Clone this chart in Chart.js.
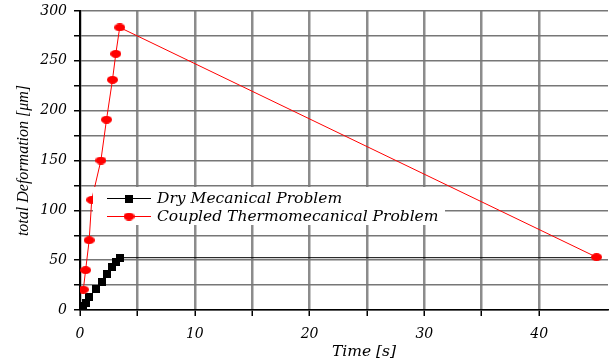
<!DOCTYPE html>
<html>
<head>
<meta charset="utf-8">
<script src="https://cdn.jsdelivr.net/npm/chart.js@4/dist/chart.umd.min.js"></script>
<style>
html,body{margin:0;padding:0;background:#fff;}
#wrap{width:609px;height:360px;position:relative;}
</style>
</head>
<body>
<div id="wrap"><canvas id="c" width="609" height="360"></canvas></div>
<script>
// ---- data ----
const timeDry = [0.23, 0.52, 0.80, 1.39, 1.88, 2.31, 2.83, 3.12, 3.46, 45];
const defDry  = [4, 7.5, 13, 21, 28, 36, 43.5, 48.5, 52.5, 52.5];
const timeTm  = [0.29, 0.49, 0.80, 1.02, 1.82, 2.31, 2.83, 3.12, 3.46, 45];
const defTm   = [20.5, 40, 70, 110.5, 150, 191, 231, 257, 283.5, 53];
const seriesNames = ['Dry Mecanical Problem', 'Coupled Thermomecanical Problem'];
const xTitle = 'Time [s]';
const yTitle = 'total Deformation [\u03bcm]';

function marker(w, h, color, shape) {
  const cv = document.createElement('canvas');
  cv.width = w; cv.height = h;
  const g = cv.getContext('2d');
  g.fillStyle = color;
  if (shape === 'ellipse') {
    g.beginPath();
    g.ellipse(w / 2, h / 2, w / 2, h / 2, 0, 0, Math.PI * 2);
    g.fill();
  } else {
    g.fillRect(0, 0, w, h);
  }
  return cv;
}
const sqMark = marker(8, 8, '#000000', 'rect');
const elMark = marker(11, 8, '#ff0000', 'ellipse');

const tickFont = {family: 'DejaVu Serif', style: 'italic', size: 14};

const lastZero = (ctx) => ctx.dataIndex === ctx.dataset.data.length - 1 ? 0 : 5;

const legendPlugin = {
  id: 'insideLegend',
  afterDatasetsDraw(chart) {
    const ctx = chart.ctx;
    const a = chart.chartArea;
    const bx = a.left + 13, by = a.top + 176, bw = 352, bh = 38;
    ctx.save();
    ctx.fillStyle = '#ffffff';
    ctx.fillRect(bx, by, bw, bh);
    const rows = [
      {color: '#000000', mark: sqMark, text: seriesNames[0]},
      {color: '#ff0000', mark: elMark, text: seriesNames[1]}
    ];
    rows.forEach((r, i) => {
      const cy = by + 11 + i * 18;
      ctx.strokeStyle = r.color;
      ctx.lineWidth = 1;
      ctx.beginPath();
      ctx.moveTo(bx + 14, cy + 0.5);
      ctx.lineTo(bx + 58, cy + 0.5);
      ctx.stroke();
      ctx.drawImage(r.mark, bx + 36 - r.mark.width / 2, cy - r.mark.height / 2 + 0.5);
      ctx.fillStyle = '#000';
      ctx.font = 'italic 15.5px "DejaVu Serif"';
      ctx.textBaseline = 'middle';
      ctx.textAlign = 'left';
      ctx.fillText(r.text, bx + 64, cy + 1);
    });
    ctx.restore();
  }
};

const xTitlePlugin = {
  id: 'xTitleDraw',
  afterDraw(chart) {
    const ctx = chart.ctx;
    const a = chart.chartArea;
    ctx.save();
    ctx.fillStyle = '#000';
    ctx.font = 'italic 15.5px "DejaVu Serif"';
    ctx.textAlign = 'center';
    ctx.textBaseline = 'middle';
    ctx.fillText(xTitle, (a.left + a.right) / 2 + 20, a.bottom + 42);
    ctx.restore();
  }
};

new Chart(document.getElementById('c'), {
  type: 'scatter',
  data: {
    datasets: [
      {
        label: seriesNames[0],
        data: timeDry.map((t, i) => ({x: t, y: defDry[i]})),
        showLine: true,
        borderColor: '#000000',
        borderWidth: 1,
        pointStyle: sqMark,
        pointRadius: lastZero,
        pointHoverRadius: lastZero,
        order: 2
      },
      {
        label: seriesNames[1],
        data: timeTm.map((t, i) => ({x: t, y: defTm[i]})),
        showLine: true,
        borderColor: '#ff0000',
        borderWidth: 1,
        pointStyle: elMark,
        pointRadius: 5,
        order: 1
      }
    ]
  },
  options: {
    responsive: false,
    animation: false,
    events: [],
    layout: {autoPadding: false, padding: {top: 11, right: 1, left: 0, bottom: 0}},
    plugins: {legend: {display: false}, tooltip: {enabled: false}},
    scales: {
      x: {
        type: 'linear',
        min: 0, max: 46,
        afterBuildTicks: (s) => { s.ticks = s.ticks.filter(t => t.value % 5 === 0); },
        afterFit: (s) => { s.height = 50; s.paddingRight = 0; s.paddingLeft = 0; },
        ticks: {
          stepSize: 5,
          color: '#000',
          font: tickFont,
          padding: 10,
          maxRotation: 0,
          autoSkip: false,
          callback: (v) => (v % 10 === 0 ? String(v) : '')
        },
        grid: {color: '#8c8c8c', lineWidth: 2.5, tickLength: 6, tickColor: '#000', tickWidth: 1.5},
        border: {color: '#000', width: 1.5}
      },
      y: {
        type: 'linear',
        min: 0, max: 300,
        afterFit: (s) => { s.width = 80; s.paddingTop = 0; s.paddingBottom = 0; },
        ticks: {
          stepSize: 25,
          color: '#000',
          font: tickFont,
          padding: 7,
          autoSkip: false,
          callback: (v) => (v % 50 === 0 ? String(v) : '')
        },
        grid: {color: '#777777', lineWidth: 1.5, tickLength: 6, tickColor: '#000', tickWidth: 1.5},
        border: {color: '#000', width: 2},
        title: {
          display: true,
          text: yTitle,
          color: '#000',
          font: {family: 'Liberation Serif', style: 'italic', size: 16},
          padding: {top: 14, bottom: 0}
        }
      }
    }
  },
  plugins: [legendPlugin, xTitlePlugin]
});
</script>
</body>
</html>
